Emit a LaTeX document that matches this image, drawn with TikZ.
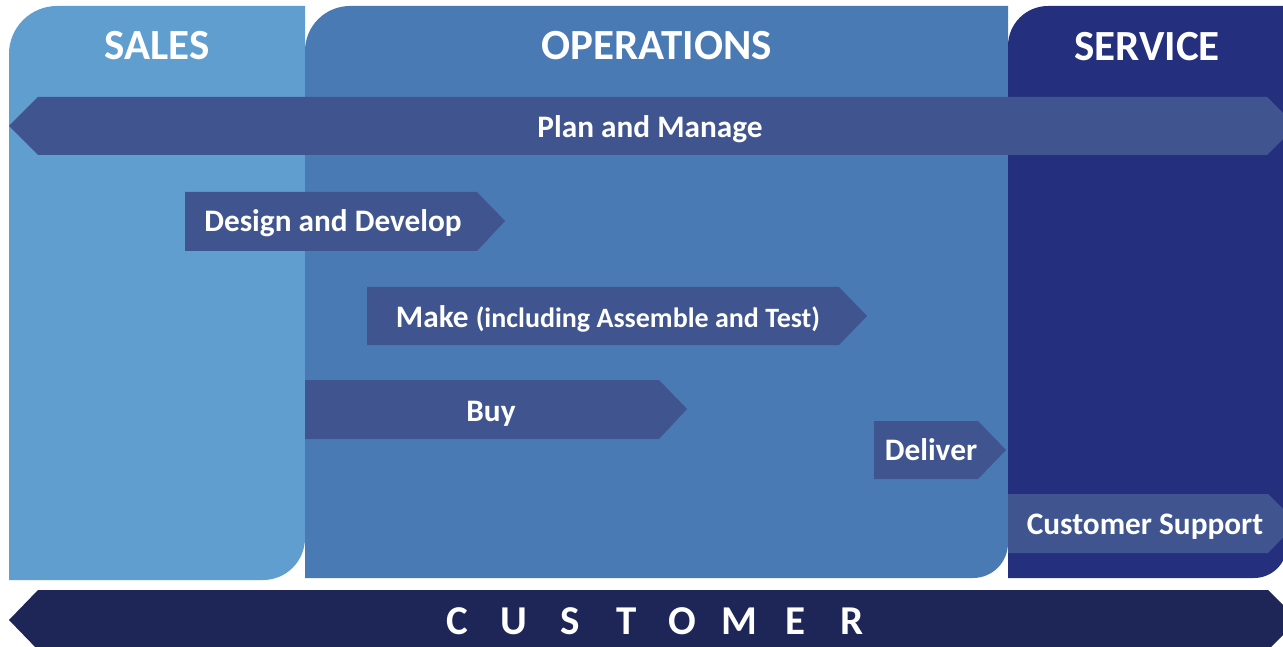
\documentclass[tikz,border=0pt]{standalone}
\usepackage{fontspec}
\setmainfont{Carlito}
\usetikzlibrary{positioning}
\definecolor{salesblue}{HTML}{5F9ECE}
\definecolor{opsblue}{HTML}{4A7AB3}
\definecolor{serviceblue}{HTML}{24307E}
\definecolor{phaseblue}{HTML}{40548F}
\definecolor{customerblue}{HTML}{1E2657}

\begin{document}
\begin{tikzpicture}[x=1pt, y=-1pt,
    column_head/.style={text=white, anchor=base, inner sep=0pt, font=\bfseries\fontsize{43}{47}\selectfont},
    phase_label/.style={text=white, anchor=base, inner sep=0pt, font=\bfseries\fontsize{31.3}{35}\selectfont},
    phase_arrow/.style={fill=phaseblue}]
    \useasboundingbox (0,0) rectangle (1283,647);
    \clip (0,0) rectangle (1283,647);
    % the three columns
    \fill[salesblue] (9,580) -- (9,54) arc[start angle=180, end angle=270, radius=48]
        -- (305,6) -- (305,538) arc[start angle=0, end angle=90, radius=42] -- cycle;
    \fill[opsblue] (305,578) -- (305,51) arc[start angle=180, end angle=270, radius=45]
        -- (1008,6) -- (1008,543) arc[start angle=0, end angle=90, radius=35] -- cycle;
    \fill[serviceblue] (1008,578) -- (1008,46) arc[start angle=180, end angle=270, radius=40]
        -- (1287,6) -- (1287,545) arc[start angle=0, end angle=90, radius=33] -- cycle;
    \node[column_head] (sales) at (157,60) {SALES};
    \node[column_head] (operations) at (657,60) {OPERATIONS};
    \node[column_head] (service) at (1147,61) {SERVICE};
    % process arrows
    \fill[phase_arrow] (9,126) -- (38,97) -- (1267,97) -- (1296,126) -- (1267,155) -- (38,155) -- cycle;
    \node[phase_label] (plan) at (650,138) {Plan and Manage};
    \fill[phase_arrow] (185,192) -- (477,192) -- (505,221) -- (477,251) -- (185,251) -- cycle;
    \node[phase_label] (design) at (333,232) {Design and Develop};
    \fill[phase_arrow] (367,287) -- (839,287) -- (867,316) -- (839,345) -- (367,345) -- cycle;
    \node[phase_label] (make) at (608,327) {Make {\fontsize{28}{31}\selectfont(including Assemble and Test)}};
    \fill[phase_arrow] (305,380) -- (659,380) -- (687,409) -- (659,439) -- (305,439) -- cycle;
    \node[phase_label] (buy) at (491,421) {Buy};
    \fill[phase_arrow] (874,421) -- (978,421) -- (1006,450) -- (978,479) -- (874,479) -- cycle;
    \node[phase_label] (deliver) at (931,460) {Deliver};
    \fill[phase_arrow] (1008,494) -- (1268,494) -- (1297,523) -- (1268,553) -- (1008,553) -- cycle;
    \node[phase_label] (support) at (1145,534) {Customer Support};
    % customer bar
    \fill[customerblue] (9,620) -- (38,590) -- (1268,590) -- (1298,620) -- (1268,650) -- (38,650) -- cycle;
    \foreach \ch [count=\i] in {C,U,S,T,O,M,E,R}
        \node[column_head, font=\bfseries\fontsize{41}{45}\selectfont] (customer\i) at ({457+56.4*(\i-1)},634) {\ch};
\end{tikzpicture}
\end{document}
